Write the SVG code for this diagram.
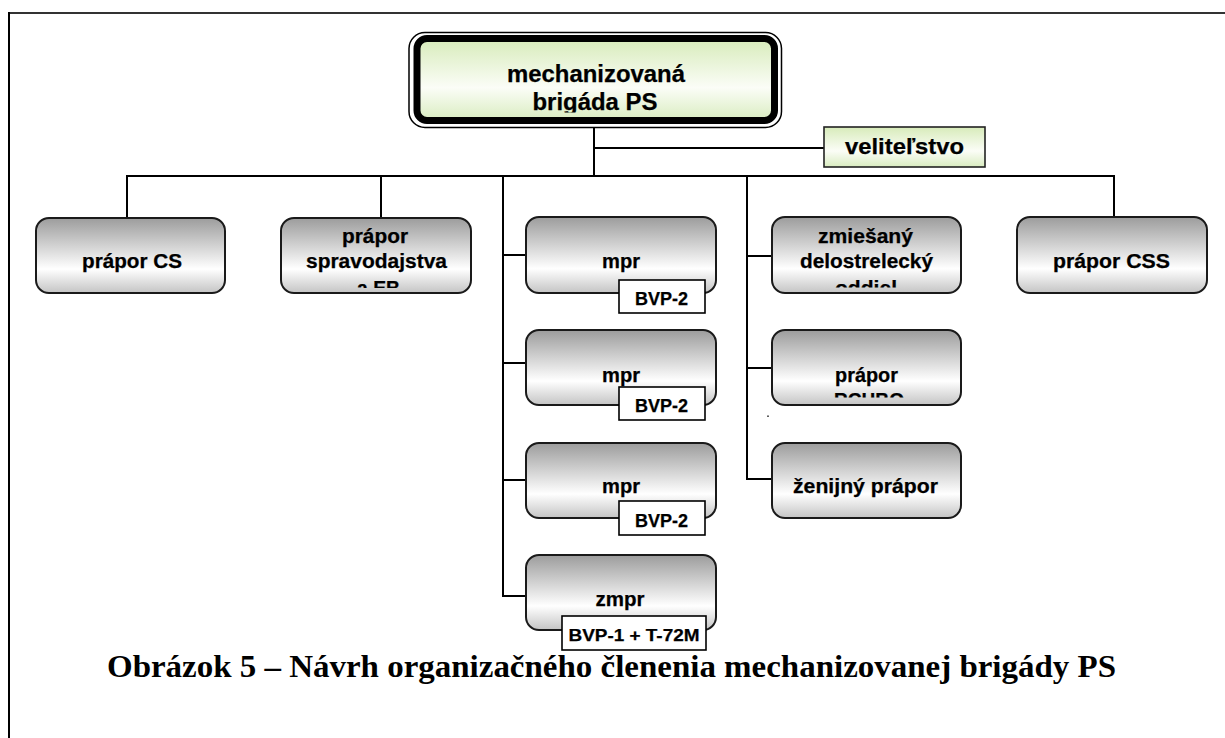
<svg xmlns="http://www.w3.org/2000/svg" width="1225" height="738" viewBox="0 0 1225 738">
<style>
.t{font-family:"Liberation Sans",Arial,sans-serif;font-weight:bold;fill:#000;text-anchor:middle;stroke:#000;stroke-width:0.25}
.b{font-size:20px}
.s{font-size:17.5px}
.box{fill:url(#gray);stroke:#1a1a1a;stroke-width:2}
.tag{fill:#fff;stroke:#000;stroke-width:1.6}
.c{stroke:#000;stroke-width:2;fill:none}
</style>
<defs>
<linearGradient id="gray" x1="0" y1="0" x2="0" y2="1">
<stop offset="0" stop-color="#9c9c9c"/>
<stop offset="0.68" stop-color="#ffffff"/>
<stop offset="1" stop-color="#c4c4c4"/>
</linearGradient>
<linearGradient id="green" x1="0" y1="0" x2="0" y2="1">
<stop offset="0" stop-color="#d7ebba"/>
<stop offset="0.6" stop-color="#fbfdf7"/>
<stop offset="1" stop-color="#d9ecc0"/>
</linearGradient>
<clipPath id="clipTop"><rect x="421" y="42" width="350" height="70.5"/></clipPath>
<clipPath id="clipSpr"><rect x="281" y="218" width="190" height="70"/></clipPath>
<clipPath id="clipZm"><rect x="772" y="217" width="189" height="70.5"/></clipPath>
<clipPath id="clipRch"><rect x="772" y="330" width="189" height="67.5"/></clipPath>
</defs>
<rect width="1225" height="738" fill="#fff"/>
<g id="frame">
<line x1="9" y1="13" x2="1225" y2="13" stroke="#333" stroke-width="2"/>
<line x1="9" y1="12" x2="9" y2="738" stroke="#000" stroke-width="2"/>
</g>
<g id="connectors">
<line class="c" x1="594" y1="124" x2="594" y2="176"/>
<line class="c" x1="594" y1="148" x2="824" y2="148"/>
<line class="c" x1="126" y1="176" x2="1115" y2="176"/>
<line class="c" x1="127" y1="176" x2="127" y2="218"/>
<line class="c" x1="381" y1="176" x2="381" y2="218"/>
<line class="c" x1="1114" y1="176" x2="1114" y2="217"/>
<polyline class="c" points="503,176 503,596 526,596"/>
<line class="c" x1="503" y1="255" x2="526" y2="255"/>
<line class="c" x1="503" y1="363" x2="526" y2="363"/>
<line class="c" x1="503" y1="480" x2="526" y2="480"/>
<polyline class="c" points="747,176 747,479 772,479"/>
<line class="c" x1="747" y1="256" x2="772" y2="256"/>
<line class="c" x1="747" y1="368" x2="772" y2="368"/>
</g>
<g id="n-brigada">
<rect x="409" y="32.5" width="372.5" height="95" rx="16" fill="#fff" stroke="#000" stroke-width="1.5"/>
<rect x="417" y="38.5" width="357.5" height="82" rx="10" fill="url(#green)" stroke="#000" stroke-width="7"/>
<g clip-path="url(#clipTop)">
<text class="t" x="596" y="82" font-size="24" textLength="178" lengthAdjust="spacingAndGlyphs">mechanizovaná</text>
<text class="t" x="595" y="110" font-size="24" textLength="125" lengthAdjust="spacingAndGlyphs">brigáda PS</text>
</g>
</g>
<g id="n-velitelstvo">
<rect x="824" y="127" width="161" height="40" fill="url(#green)" stroke="#222" stroke-width="1.6"/>
<text class="t" x="904.5" y="154" font-size="22.5" textLength="119" lengthAdjust="spacingAndGlyphs">veliteľstvo</text>
</g>
<g id="n-prapor-cs">
<rect class="box" x="36" y="218" width="189" height="75" rx="13"/>
<text class="t b" x="132" y="268" textLength="100" lengthAdjust="spacingAndGlyphs">prápor CS</text>
</g>
<g id="n-prapor-spravodajstva">
<rect class="box" x="281" y="218" width="190" height="75" rx="13"/>
<g clip-path="url(#clipSpr)">
<text class="t b" x="375" y="243" textLength="66" lengthAdjust="spacingAndGlyphs">prápor</text>
<text class="t b" x="376.5" y="268" textLength="141" lengthAdjust="spacingAndGlyphs">spravodajstva</text>
<text class="t b" x="378.5" y="295" textLength="43" lengthAdjust="spacingAndGlyphs">a EB</text>
</g>
</g>
<g id="n-mpr1">
<rect class="box" x="526" y="217" width="190" height="76" rx="13"/>
<text class="t b" x="621" y="268" textLength="38" lengthAdjust="spacingAndGlyphs">mpr</text>
<rect class="tag" x="619" y="280" width="86" height="33"/>
<text class="t s" x="661.5" y="305" textLength="53" lengthAdjust="spacingAndGlyphs">BVP-2</text>
</g>
<g id="n-mpr2">
<rect class="box" x="526" y="330" width="190" height="75" rx="13"/>
<text class="t b" x="621" y="382" textLength="38" lengthAdjust="spacingAndGlyphs">mpr</text>
<rect class="tag" x="619" y="387" width="86" height="33"/>
<text class="t s" x="661.5" y="412" textLength="53" lengthAdjust="spacingAndGlyphs">BVP-2</text>
</g>
<g id="n-mpr3">
<rect class="box" x="526" y="443" width="190" height="75" rx="13"/>
<text class="t b" x="621" y="493" textLength="38" lengthAdjust="spacingAndGlyphs">mpr</text>
<rect class="tag" x="619" y="501" width="86" height="34"/>
<text class="t s" x="661.5" y="527" textLength="53" lengthAdjust="spacingAndGlyphs">BVP-2</text>
</g>
<g id="n-zmpr">
<rect class="box" x="526" y="555" width="190" height="75" rx="13"/>
<text class="t b" x="620" y="606" textLength="49" lengthAdjust="spacingAndGlyphs">zmpr</text>
<rect class="tag" x="562" y="616" width="144" height="34"/>
<text class="t" x="634" y="641" font-size="16.5" textLength="131" lengthAdjust="spacingAndGlyphs">BVP-1 + T-72M</text>
</g>
<g id="n-zmiesany">
<rect class="box" x="772" y="217" width="189" height="76" rx="13"/>
<g clip-path="url(#clipZm)">
<text class="t b" x="865.5" y="243" textLength="95" lengthAdjust="spacingAndGlyphs">zmiešaný</text>
<text class="t b" x="866.5" y="268" textLength="133" lengthAdjust="spacingAndGlyphs">delostrelecký</text>
<text class="t b" x="866" y="295" textLength="62" lengthAdjust="spacingAndGlyphs">oddiel</text>
</g>
</g>
<g id="n-rchbo">
<rect class="box" x="772" y="330" width="189" height="75" rx="13"/>
<g clip-path="url(#clipRch)">
<text class="t b" x="866.5" y="382" textLength="63" lengthAdjust="spacingAndGlyphs">prápor</text>
<text class="t b" x="869" y="407" textLength="70" lengthAdjust="spacingAndGlyphs">RCHBO</text>
</g>
</g>
<rect x="767.3" y="415.5" width="1.4" height="1.4" fill="#000"/>
<g id="n-zenijny">
<rect class="box" x="772" y="443" width="189" height="75" rx="13"/>
<text class="t b" x="865.5" y="493" textLength="145" lengthAdjust="spacingAndGlyphs">ženijný prápor</text>
</g>
<g id="n-prapor-css">
<rect class="box" x="1017" y="217" width="190" height="76" rx="13"/>
<text class="t b" x="1111.5" y="268" textLength="117" lengthAdjust="spacingAndGlyphs">prápor CSS</text>
</g>
<text x="611.5" y="677" font-family="'Liberation Serif','Times New Roman',serif" font-weight="bold" font-size="32" text-anchor="middle" textLength="1009" lengthAdjust="spacingAndGlyphs">Obrázok 5 – Návrh organizačného členenia mechanizovanej brigády PS</text>
</svg>
